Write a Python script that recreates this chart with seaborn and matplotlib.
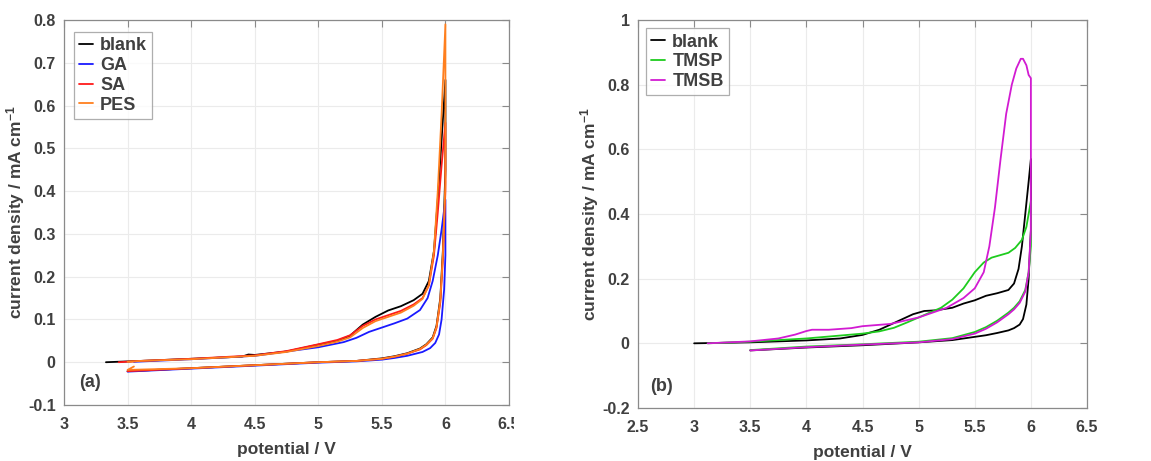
import numpy as np
import pandas as pd
import matplotlib
matplotlib.use("Agg")
import matplotlib.pyplot as plt
import seaborn as sns
from matplotlib.transforms import Bbox

# ---- panel (a) data: forward scan then reverse scan ----
blank_a_x = [3.33, 3.6, 4.0, 4.4, 4.45, 4.5, 4.75, 5.0, 5.15, 5.25, 5.35, 5.45, 5.55, 5.65, 5.75, 5.82, 5.87, 5.91, 5.94, 5.97, 6.0,
             6.0, 5.98, 5.96, 5.93, 5.9, 5.85, 5.8, 5.7, 5.6, 5.5, 5.3, 5.0, 4.5, 4.0, 3.5]
blank_a_y = [0.0, 0.003, 0.008, 0.013, 0.018, 0.017, 0.025, 0.041, 0.05, 0.062, 0.088, 0.106, 0.121, 0.131, 0.145, 0.16, 0.19, 0.26, 0.38, 0.52, 0.66,
             0.45, 0.26, 0.15, 0.085, 0.058, 0.042, 0.032, 0.021, 0.014, 0.009, 0.003, 0.0, -0.007, -0.014, -0.021]

ga_x = [3.55, 4.0, 4.5, 5.0, 5.2, 5.3, 5.4, 5.5, 5.6, 5.7, 5.8, 5.86, 5.9, 5.94, 5.97, 6.0,
        6.0, 5.99, 5.97, 5.95, 5.92, 5.88, 5.82, 5.7, 5.6, 5.5, 5.3, 5.0, 4.5, 4.0, 3.5]
ga_y = [0.001, 0.007, 0.015, 0.035, 0.047, 0.057, 0.071, 0.081, 0.091, 0.102, 0.122, 0.15, 0.19, 0.25, 0.31, 0.38,
        0.25, 0.17, 0.1, 0.065, 0.045, 0.033, 0.024, 0.015, 0.01, 0.006, 0.002, -0.001, -0.008, -0.015, -0.022]

sa_x = [3.43, 3.6, 4.0, 4.5, 4.75, 5.0, 5.15, 5.25, 5.35, 5.45, 5.55, 5.65, 5.75, 5.82, 5.87, 5.91, 5.94, 5.97, 6.0,
        6.0, 5.98, 5.96, 5.93, 5.9, 5.85, 5.8, 5.7, 5.6, 5.5, 5.3, 5.0, 4.5, 4.0, 3.5]
sa_y = [0.0, 0.003, 0.008, 0.016, 0.026, 0.042, 0.052, 0.063, 0.085, 0.1, 0.11, 0.12, 0.135, 0.15, 0.18, 0.25, 0.35, 0.46, 0.56,
        0.4, 0.24, 0.14, 0.08, 0.055, 0.04, 0.03, 0.02, 0.013, 0.008, 0.003, 0.0, -0.007, -0.014, -0.021]

pes_x = [3.5, 3.6, 4.0, 4.5, 4.75, 5.0, 5.15, 5.25, 5.35, 5.45, 5.55, 5.65, 5.75, 5.82, 5.87, 5.91, 5.94, 5.97, 6.0,
         6.0, 5.98, 5.96, 5.93, 5.9, 5.85, 5.8, 5.7, 5.6, 5.5, 5.3, 5.0, 4.5, 4.0, 3.5, 3.55]
pes_y = [0.001, 0.003, 0.007, 0.015, 0.024, 0.038, 0.048, 0.058, 0.08, 0.096, 0.106, 0.116, 0.132, 0.148, 0.18, 0.26, 0.4, 0.58, 0.79,
         0.42, 0.25, 0.145, 0.082, 0.056, 0.041, 0.031, 0.02, 0.013, 0.008, 0.003, 0.0, -0.007, -0.014, -0.018, -0.01]

# ---- panel (b) data ----
blank_b_x = [3.0, 3.5, 4.0, 4.3, 4.5, 4.65, 4.8, 4.95, 5.05, 5.15, 5.3, 5.4, 5.5, 5.6, 5.7, 5.8, 5.85, 5.89, 5.92, 5.95, 5.98, 6.0,
             6.0, 5.98, 5.96, 5.93, 5.9, 5.85, 5.8, 5.7, 5.6, 5.5, 5.3, 5.0, 4.5, 4.0, 3.5]
blank_b_y = [0.0, 0.003, 0.009, 0.015, 0.026, 0.042, 0.066, 0.09, 0.1, 0.102, 0.11, 0.123, 0.133, 0.147, 0.155, 0.165, 0.185, 0.23, 0.3, 0.4, 0.5, 0.57,
             0.35, 0.2, 0.12, 0.075, 0.058, 0.047, 0.04, 0.032, 0.025, 0.02, 0.01, 0.003, -0.006, -0.013, -0.022]

tmsp_x = [3.12, 3.5, 4.0, 4.5, 4.65, 4.78, 4.9, 5.0, 5.1, 5.2, 5.3, 5.4, 5.5, 5.58, 5.65, 5.72, 5.8, 5.86, 5.92, 5.96, 6.0,
          6.0, 5.98, 5.95, 5.9, 5.85, 5.8, 5.7, 5.6, 5.5, 5.3, 5.0, 4.5, 4.0, 3.5]
tmsp_y = [0.0, 0.005, 0.015, 0.03, 0.037, 0.048, 0.065, 0.08, 0.095, 0.11, 0.135, 0.17, 0.22, 0.25, 0.265, 0.272, 0.28, 0.295, 0.32, 0.36, 0.44,
          0.3, 0.22, 0.165, 0.13, 0.11, 0.095, 0.07, 0.05, 0.035, 0.016, 0.005, -0.003, -0.01, -0.021]

tmsb_x = [3.12, 3.5, 3.75, 3.9, 4.0, 4.05, 4.2, 4.4, 4.5, 4.75, 5.0, 5.25, 5.4, 5.5, 5.58, 5.63, 5.68, 5.73, 5.78, 5.83, 5.87, 5.91, 5.93, 5.96, 5.98, 6.0,
          6.0, 5.98, 5.95, 5.9, 5.85, 5.8, 5.7, 5.6, 5.5, 5.3, 5.0, 4.5, 4.0, 3.5]
tmsb_y = [0.0, 0.006, 0.015, 0.027, 0.038, 0.042, 0.042, 0.047, 0.053, 0.06, 0.08, 0.11, 0.14, 0.17, 0.22, 0.3, 0.42, 0.57, 0.71, 0.8, 0.85, 0.88, 0.88, 0.86, 0.83, 0.82,
          0.35, 0.22, 0.16, 0.125, 0.105, 0.09, 0.065, 0.045, 0.03, 0.013, 0.003, -0.004, -0.012, -0.022]

labels_a = ["blank", "GA", "SA", "PES"]
colors_a = ["#000000", "#1a1aff", "#ff1a1a", "#ff7f1e"]
labels_b = ["blank", "TMSP", "TMSB"]
colors_b = ["#000000", "#1ecc1e", "#d21bd2"]


def make_df(xs, ys, names):
    rows = []
    for x, y, n in zip(xs, ys, names):
        rows.append(pd.DataFrame({"E": x, "j": y, "sample": n}))
    return pd.concat(rows, ignore_index=True)


df_a = make_df([blank_a_x, ga_x, sa_x, pes_x], [blank_a_y, ga_y, sa_y, pes_y], labels_a)
df_b = make_df([blank_b_x, tmsp_x, tmsb_x], [blank_b_y, tmsp_y, tmsb_y], labels_b)

sns.set_style("white")
plt.rcParams["font.family"] = ["Liberation Sans", "DejaVu Sans"]
plt.rcParams["font.weight"] = "bold"
plt.rcParams["mathtext.default"] = "regular"
txt = "#404040"

fig = plt.figure(figsize=(11.51, 4.61), dpi=100)
ax1 = fig.add_axes([0.0556, 0.1215, 0.3866, 0.835])
ax2 = fig.add_axes([0.5543, 0.115, 0.3901, 0.8416])

panels = [(ax1, df_a, labels_a, colors_a, (0.022, 0.969), -0.083),
          (ax2, df_b, labels_b, colors_b, (0.018, 0.979), -0.082)]
for ax, df, labs, cols, anchor, ylab_x in panels:
    # each sample is one loop: forward scan then reverse scan, drawn in order
    for lab, c in zip(labs, cols):
        sub = df[df["sample"] == lab]
        sns.lineplot(data=sub, x="E", y="j", sort=False, estimator=None, color=c, lw=1.3, ax=ax, label=lab)
    ax.grid(True, color="#ebebeb", lw=0.8)
    ax.set_axisbelow(True)
    for s in ax.spines.values():
        s.set_color("#8a8a8a")
        s.set_linewidth(0.9)
    ax.tick_params(direction="in", length=5, color="#8a8a8a", top=True, right=True,
                   labelsize=11.5, labelcolor=txt)
    ax.tick_params(axis="x", pad=9)
    ax.tick_params(axis="y", pad=6)
    ax.set_xlabel("potential / V", fontsize=12.5, fontweight="bold", color=txt, labelpad=7)
    ax.set_ylabel("current density / mA cm$^{-1}$", fontsize=12.5, fontweight="bold", color=txt)
    ax.yaxis.set_label_coords(ylab_x, 0.5)
    leg = ax.legend(loc="upper left", bbox_to_anchor=anchor, frameon=True, fancybox=False,
                    handlelength=0.75, handletextpad=0.4, borderpad=0.3, labelspacing=0.15,
                    borderaxespad=0, prop={"weight": "bold", "size": 13})
    leg.get_frame().set_edgecolor("#9a9a9a")
    leg.get_frame().set_linewidth(0.9)
    for t in leg.get_texts():
        t.set_color(txt)

ax1.set_xlim(3, 6.5)
ax1.set_ylim(-0.1, 0.8)
ax1.set_xticks(np.arange(3, 6.51, 0.5))
ax1.set_xticklabels(["3", "3.5", "4", "4.5", "5", "5.5", "6", "6.5"])
ax1.set_yticks(np.arange(-0.1, 0.81, 0.1))
ax1.set_yticklabels(["-0.1", "0", "0.1", "0.2", "0.3", "0.4", "0.5", "0.6", "0.7", "0.8"])
ax1.text(3.12, -0.047, "(a)", fontsize=13, fontweight="bold", color=txt, va="center")

ax2.set_xlim(2.5, 6.5)
ax2.set_ylim(-0.2, 1.0)
ax2.set_xticks(np.arange(2.5, 6.51, 0.5))
ax2.set_xticklabels(["2.5", "3", "3.5", "4", "4.5", "5", "5.5", "6", "6.5"])
ax2.set_yticks(np.arange(-0.2, 1.01, 0.2))
ax2.set_yticklabels(["-0.2", "0", "0.2", "0.4", "0.6", "0.8", "1"])
ax2.text(2.61, -0.135, "(b)", fontsize=13, fontweight="bold", color=txt, va="center")

for t in ax1.get_xticklabels() + ax1.get_yticklabels() + ax2.get_xticklabels() + ax2.get_yticklabels():
    t.set_fontweight("bold")

# the last tick label of panel (a) is cut off at the panel's edge
fig.canvas.draw()
clip = Bbox.from_extents(0, 0, 0.4465 * fig.bbox.width, fig.bbox.height)
ax1.get_xticklabels()[-1].set_clip_box(clip)
ax1.get_xticklabels()[-1].set_clip_on(True)

fig.savefig("out.png", dpi=100, facecolor="white")
